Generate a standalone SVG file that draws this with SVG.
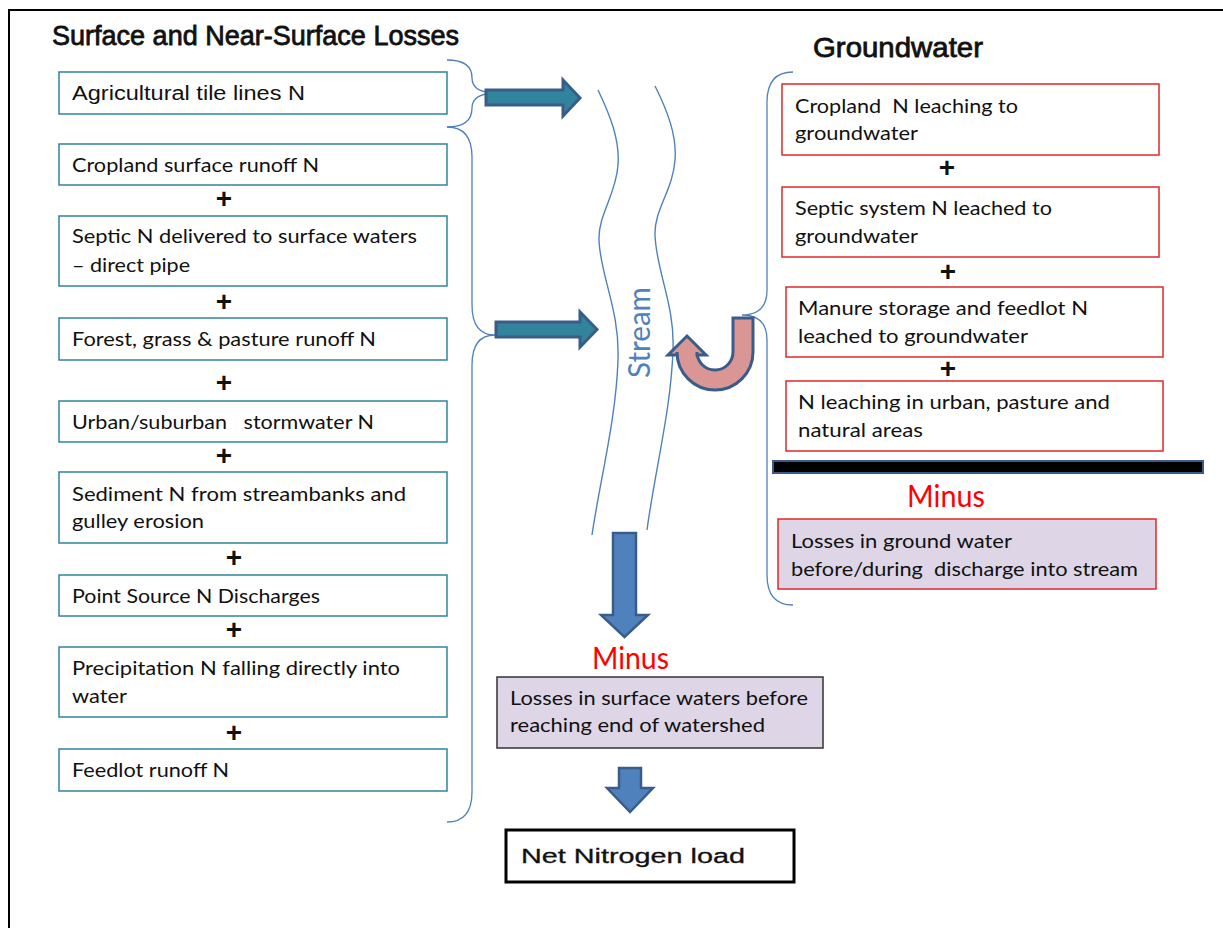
<svg xmlns="http://www.w3.org/2000/svg" width="1223" height="928" viewBox="0 0 1223 928">
<style>
.lb{fill:#fff;stroke:#31849b;stroke-width:1.5}
.rb{fill:#fff;stroke:#e0292a;stroke-width:1.5}
.lo{fill:#ded6e6}
.t{font-family:Lato,"Liberation Sans",sans-serif;font-size:20px;fill:#111}
.a{font-family:"Liberation Sans",Arial,sans-serif;font-size:20px;fill:#111}
.h{font-family:"Liberation Sans",Arial,sans-serif;font-size:28px;fill:#111;stroke:#111;stroke-width:0.8}
.plus{font-family:"Liberation Sans",Arial,sans-serif;font-weight:bold;font-size:28px;text-anchor:middle;fill:#111}
.minus{font-family:Lato,"Liberation Sans",sans-serif;font-size:30px;fill:#ff0000}
.brace{fill:none;stroke:#4f81bd;stroke-width:1.3}
.stream{fill:none;stroke:#4f81bd;stroke-width:1.4}
.teal{fill:#31849b;stroke:#385d8a;stroke-width:3;stroke-linejoin:miter}
.blue{fill:#4f81bd;stroke:#385d8a;stroke-width:2.5}
</style>
<rect x="9" y="10" width="1240" height="940" fill="#fff" stroke="#000" stroke-width="2"/>

<text class="h" x="52" y="45" textLength="407" lengthAdjust="spacingAndGlyphs">Surface and Near-Surface Losses</text>
<text class="h" x="813" y="57" textLength="170" lengthAdjust="spacingAndGlyphs">Groundwater</text>

<g id="connectors">
  <path class="brace" d="M447 60 Q472 60 472 78 Q472 93 497 93 Q472 93 472 108 Q472 127 447 127"/>
  <path class="brace" d="M447 127 Q472 127 472 157 L472 305 Q472 335 495 335 Q472 335 472 365 L472 792 Q472 822 447 822"/>
  <path class="brace" d="M793 72 Q767 72 767 102 L767 290 Q767 315 742 315 Q767 315 767 340 L767 575 Q767 605 793 605"/>
  <path class="stream" d="M598 90 C610 115 620 140 618 165 C616 195 598 215 599 240 C600 275 620 310 618 360 C616 420 600 480 592 535"/>
  <path class="stream" d="M655 86 C667 110 677 135 675 160 C673 190 654 210 655 235 C656 270 675 305 673 350 C671 410 655 470 647 530"/>
  <polygon class="teal" points="486,90 563,90 563,80 580,98 563,116 563,105 486,105"/>
  <polygon class="teal" points="496,322 580,322 580,312 597,329.5 580,347 580,337 496,337"/>
  <path fill="#d99694" stroke="#385d8a" stroke-width="3" d="M753 318 L753 352 A38 38 0 0 1 677 352 L677 355 L668 355 L687 336 L706 355 L697 355 L697 352 A18 18 0 0 0 733 352 L733 318 Z"/>
  <polygon class="blue" points="613,533 636,533 636,615 648,615 624.5,637 601,615 613,615"/>
  <polygon class="blue" points="619,768 641,768 641,788 653,788 630,812 607,788 619,788"/>
</g>

<text transform="translate(650,378) rotate(-90)" font-family="Lato,'Liberation Sans',sans-serif" font-size="30" fill="#4f81bd" textLength="91" lengthAdjust="spacingAndGlyphs">Stream</text>

<g id="n-tile"><rect class="lb" x="59" y="72" width="388" height="42"/><text class="a" x="72" y="100" textLength="233" lengthAdjust="spacingAndGlyphs">Agricultural tile lines N</text></g>
<g id="n-crop"><rect class="lb" x="59" y="144" width="388" height="41"/><text class="t" x="72" y="172" textLength="247" lengthAdjust="spacingAndGlyphs">Cropland surface runoff N</text></g>
<text class="plus" x="224" y="208">+</text>
<g id="n-septic"><rect class="lb" x="59" y="216" width="388" height="70"/><text class="t" x="72" y="243" textLength="345" lengthAdjust="spacingAndGlyphs">Septic N delivered to surface waters</text><text class="t" x="72" y="272" textLength="118" lengthAdjust="spacingAndGlyphs">– direct pipe</text></g>
<text class="plus" x="224" y="311">+</text>
<g id="n-forest"><rect class="lb" x="59" y="318" width="388" height="42"/><text class="t" x="72" y="346" textLength="304" lengthAdjust="spacingAndGlyphs">Forest, grass &amp; pasture runoff N</text></g>
<text class="plus" x="224" y="392">+</text>
<g id="n-urban"><rect class="lb" x="59" y="401" width="388" height="41"/><text class="t" x="72" y="429" textLength="302" lengthAdjust="spacingAndGlyphs" xml:space="preserve">Urban/suburban   stormwater N</text></g>
<text class="plus" x="224" y="465">+</text>
<g id="n-sediment"><rect class="lb" x="59" y="472" width="388" height="71"/><text class="t" x="72" y="501" textLength="334" lengthAdjust="spacingAndGlyphs">Sediment N from streambanks and</text><text class="t" x="72" y="528" textLength="132" lengthAdjust="spacingAndGlyphs">gulley erosion</text></g>
<text class="plus" x="234" y="567">+</text>
<g id="n-point"><rect class="lb" x="59" y="575" width="388" height="41"/><text class="t" x="72" y="603" textLength="248" lengthAdjust="spacingAndGlyphs">Point Source N Discharges</text></g>
<text class="plus" x="234" y="639">+</text>
<g id="n-precip"><rect class="lb" x="59" y="647" width="388" height="70"/><text class="t" x="72" y="675" textLength="328" lengthAdjust="spacingAndGlyphs">Precipitation N falling directly into</text><text class="t" x="72" y="703" textLength="55" lengthAdjust="spacingAndGlyphs">water</text></g>
<text class="plus" x="234" y="742">+</text>
<g id="n-feedlot"><rect class="lb" x="59" y="749" width="388" height="42"/><text class="t" x="72" y="777" textLength="157" lengthAdjust="spacingAndGlyphs">Feedlot runoff N</text></g>

<g id="g-crop"><rect class="rb" x="782" y="84" width="377" height="71"/><text class="t" x="795" y="113" textLength="223" lengthAdjust="spacingAndGlyphs" xml:space="preserve">Cropland  N leaching to</text><text class="t" x="795" y="140" textLength="123" lengthAdjust="spacingAndGlyphs">groundwater</text></g>
<text class="plus" x="947" y="177">+</text>
<g id="g-septic"><rect class="rb" x="782" y="187" width="377" height="70"/><text class="t" x="795" y="215" textLength="257" lengthAdjust="spacingAndGlyphs">Septic system N leached to</text><text class="t" x="795" y="243" textLength="123" lengthAdjust="spacingAndGlyphs">groundwater</text></g>
<text class="plus" x="948" y="281">+</text>
<g id="g-manure"><rect class="rb" x="786" y="287" width="377" height="70"/><text class="t" x="798" y="315" textLength="290" lengthAdjust="spacingAndGlyphs">Manure storage and feedlot N</text><text class="t" x="798" y="343" textLength="230" lengthAdjust="spacingAndGlyphs">leached to groundwater</text></g>
<text class="plus" x="948" y="378">+</text>
<g id="g-urban"><rect class="rb" x="786" y="381" width="377" height="70"/><text class="t" x="798" y="409" textLength="312" lengthAdjust="spacingAndGlyphs">N leaching in urban, pasture and</text><text class="t" x="798" y="437" textLength="125" lengthAdjust="spacingAndGlyphs">natural areas</text></g>

<rect x="773" y="461" width="430" height="12" fill="#000" stroke="#385d8a" stroke-width="2"/>
<text class="minus" x="907" y="507" textLength="78" lengthAdjust="spacingAndGlyphs">Minus</text>
<g id="g-losses"><rect class="lo" x="778" y="519" width="378" height="70" stroke="#e0292a" stroke-width="1.5"/><text class="t" x="791" y="548" textLength="221" lengthAdjust="spacingAndGlyphs">Losses in ground water</text><text class="t" x="791" y="576" textLength="347" lengthAdjust="spacingAndGlyphs" xml:space="preserve">before/during  discharge into stream</text></g>

<text class="minus" x="592" y="669" textLength="77" lengthAdjust="spacingAndGlyphs">Minus</text>
<g id="s-losses"><rect class="lo" x="497" y="677" width="326" height="71" stroke="#333" stroke-width="1.5"/><text class="t" x="510" y="705" textLength="298" lengthAdjust="spacingAndGlyphs">Losses in surface waters before</text><text class="t" x="510" y="732" textLength="255" lengthAdjust="spacingAndGlyphs">reaching end of watershed</text></g>

<g id="net"><rect x="506" y="830" width="288" height="52" fill="#fff" stroke="#000" stroke-width="3"/><text class="a" x="521" y="863" font-size="26" stroke="#111" stroke-width="0.3" textLength="224" lengthAdjust="spacingAndGlyphs">Net Nitrogen load</text></g>
</svg>
